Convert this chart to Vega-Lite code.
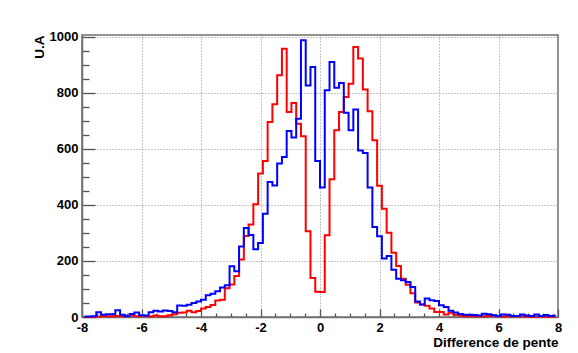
{
  "$schema": "https://vega.github.io/schema/vega-lite/v6.json",
  "width": 476,
  "height": 282,
  "autosize": "none",
  "padding": {"left": 82, "top": 35, "right": 20, "bottom": 36},
  "background": "white",
  "config": {
    "font": "Liberation Sans",
    "view": {"stroke": "#707070", "strokeWidth": 1.5},
    "axis": {
      "labelFont": "Liberation Sans",
      "labelFontWeight": "bold",
      "labelFontSize": 13,
      "labelColor": "black",
      "titleFont": "Liberation Sans",
      "titleFontWeight": "bold",
      "titleFontSize": 13.5,
      "titleColor": "black",
      "domainColor": "#707070",
      "domainWidth": 1.5,
      "tickColor": "#555555",
      "tickWidth": 1.3,
      "gridColor": "#8a8a8a",
      "gridDash": [1, 2],
      "gridWidth": 1
    }
  },
  "data": {
    "values": [
      {"x": -7.92, "red": 0, "blue": 2}, {"x": -7.76, "red": 0, "blue": 2}, {"x": -7.6, "red": 0, "blue": 3},
      {"x": -7.44, "red": 2, "blue": 17}, {"x": -7.28, "red": 3, "blue": 8}, {"x": -7.12, "red": 3, "blue": 10},
      {"x": -6.96, "red": 2, "blue": 10}, {"x": -6.8, "red": 4, "blue": 24}, {"x": -6.64, "red": 3, "blue": 8},
      {"x": -6.48, "red": 4, "blue": 3}, {"x": -6.32, "red": 5, "blue": 11}, {"x": -6.16, "red": 3, "blue": 16},
      {"x": -6, "red": 4, "blue": 6}, {"x": -5.84, "red": 4, "blue": 5}, {"x": -5.68, "red": 2, "blue": 17},
      {"x": -5.52, "red": 5, "blue": 22}, {"x": -5.36, "red": 3, "blue": 20}, {"x": -5.2, "red": 3, "blue": 23},
      {"x": -5.04, "red": 6, "blue": 21}, {"x": -4.88, "red": 10, "blue": 17}, {"x": -4.72, "red": 15, "blue": 41},
      {"x": -4.56, "red": 16, "blue": 40}, {"x": -4.4, "red": 22, "blue": 44}, {"x": -4.24, "red": 17, "blue": 50},
      {"x": -4.08, "red": 21, "blue": 55}, {"x": -3.92, "red": 30, "blue": 62}, {"x": -3.76, "red": 36, "blue": 78},
      {"x": -3.6, "red": 43, "blue": 83}, {"x": -3.44, "red": 59, "blue": 92}, {"x": -3.28, "red": 62, "blue": 105},
      {"x": -3.12, "red": 103, "blue": 113}, {"x": -2.96, "red": 116, "blue": 181}, {"x": -2.8, "red": 146, "blue": 163},
      {"x": -2.64, "red": 205, "blue": 252}, {"x": -2.48, "red": 289, "blue": 318}, {"x": -2.32, "red": 330, "blue": 293},
      {"x": -2.16, "red": 403, "blue": 242}, {"x": -2, "red": 512, "blue": 264}, {"x": -1.84, "red": 557, "blue": 369},
      {"x": -1.68, "red": 696, "blue": 482}, {"x": -1.52, "red": 760, "blue": 470}, {"x": -1.36, "red": 863, "blue": 548},
      {"x": -1.2, "red": 958, "blue": 571}, {"x": -1.04, "red": 732, "blue": 664}, {"x": -0.88, "red": 764, "blue": 641},
      {"x": -0.72, "red": 690, "blue": 708}, {"x": -0.56, "red": 645, "blue": 988}, {"x": -0.4, "red": 306, "blue": 827},
      {"x": -0.24, "red": 139, "blue": 893}, {"x": -0.08, "red": 90, "blue": 557}, {"x": 0.08, "red": 89, "blue": 462},
      {"x": 0.24, "red": 292, "blue": 810}, {"x": 0.4, "red": 492, "blue": 911}, {"x": 0.56, "red": 667, "blue": 819},
      {"x": 0.72, "red": 732, "blue": 836}, {"x": 0.88, "red": 786, "blue": 729}, {"x": 1.04, "red": 833, "blue": 667},
      {"x": 1.2, "red": 964, "blue": 741}, {"x": 1.36, "red": 923, "blue": 595}, {"x": 1.52, "red": 812, "blue": 586},
      {"x": 1.68, "red": 735, "blue": 462}, {"x": 1.84, "red": 631, "blue": 321}, {"x": 2, "red": 469, "blue": 288},
      {"x": 2.16, "red": 387, "blue": 209}, {"x": 2.32, "red": 301, "blue": 218}, {"x": 2.48, "red": 229, "blue": 169},
      {"x": 2.64, "red": 182, "blue": 137}, {"x": 2.8, "red": 137, "blue": 131}, {"x": 2.96, "red": 115, "blue": 125},
      {"x": 3.12, "red": 85, "blue": 107}, {"x": 3.28, "red": 52, "blue": 55}, {"x": 3.44, "red": 45, "blue": 45},
      {"x": 3.6, "red": 40, "blue": 66}, {"x": 3.76, "red": 30, "blue": 60}, {"x": 3.92, "red": 18, "blue": 57},
      {"x": 4.08, "red": 18, "blue": 42}, {"x": 4.24, "red": 9, "blue": 36}, {"x": 4.4, "red": 15, "blue": 22},
      {"x": 4.56, "red": 8, "blue": 16}, {"x": 4.72, "red": 5, "blue": 11}, {"x": 4.88, "red": 3, "blue": 8},
      {"x": 5.04, "red": 4, "blue": 8}, {"x": 5.2, "red": 2, "blue": 7}, {"x": 5.36, "red": 3, "blue": 5},
      {"x": 5.52, "red": 2, "blue": 12}, {"x": 5.68, "red": 4, "blue": 10}, {"x": 5.84, "red": 5, "blue": 6},
      {"x": 6, "red": 3, "blue": 4}, {"x": 6.16, "red": 2, "blue": 9}, {"x": 6.32, "red": 3, "blue": 8},
      {"x": 6.48, "red": 2, "blue": 4}, {"x": 6.64, "red": 2, "blue": 4}, {"x": 6.8, "red": 3, "blue": 9},
      {"x": 6.96, "red": 2, "blue": 5}, {"x": 7.12, "red": 1, "blue": 4}, {"x": 7.28, "red": 2, "blue": 9},
      {"x": 7.44, "red": 2, "blue": 4}, {"x": 7.6, "red": 1, "blue": 7}, {"x": 7.76, "red": 2, "blue": 4},
      {"x": 7.92, "red": 1, "blue": 5}
    ]
  },
  "encoding": {
    "x": {
      "field": "x",
      "type": "quantitative",
      "scale": {"domain": [-8, 8], "nice": false, "zero": false},
      "axis": {
        "title": "Difference de pente",
        "titleAnchor": "end",
        "titlePadding": -3,
        "values": [-8, -7.5, -7, -6.5, -6, -5.5, -5, -4.5, -4, -3.5, -3, -2.5, -2, -1.5, -1, -0.5, 0, 0.5, 1, 1.5, 2, 2.5, 3, 3.5, 4, 4.5, 5, 5.5, 6, 6.5, 7, 7.5, 8],
        "labelExpr": "datum.value % 2 === 0 ? ('' + datum.value) : ''",
        "labelPadding": 12,
        "labelFlush": false,
        "labelOverlap": false,
        "tickSize": {"condition": {"test": "datum.value % 2 === 0", "value": -8}, "value": -4},
        "gridOpacity": {"condition": {"test": "datum.value % 2 === 0 && abs(datum.value) < 8", "value": 1}, "value": 0}
      }
    },
    "y": {
      "type": "quantitative",
      "scale": {"domain": [0, 1007], "nice": false},
      "axis": {
        "title": "U.A",
        "titleAnchor": "end",
        "titlePadding": 3,
        "values": [0, 50, 100, 150, 200, 250, 300, 350, 400, 450, 500, 550, 600, 650, 700, 750, 800, 850, 900, 950, 1000],
        "labelExpr": "datum.value % 200 === 0 ? ('' + datum.value) : ''",
        "labelPadding": 17,
        "labelOverlap": false,
        "tickSize": {"condition": {"test": "datum.value % 200 === 0", "value": -13}, "value": -7},
        "gridOpacity": {"condition": {"test": "datum.value % 200 === 0 && datum.value > 0", "value": 1}, "value": 0}
      }
    }
  },
  "layer": [
    {
      "mark": {"type": "line", "interpolate": "step", "color": "#ff0000", "strokeWidth": 2},
      "encoding": {"y": {"field": "red", "type": "quantitative"}}
    },
    {
      "mark": {"type": "line", "interpolate": "step", "color": "#0000ff", "strokeWidth": 2},
      "encoding": {"y": {"field": "blue", "type": "quantitative"}}
    }
  ]
}
